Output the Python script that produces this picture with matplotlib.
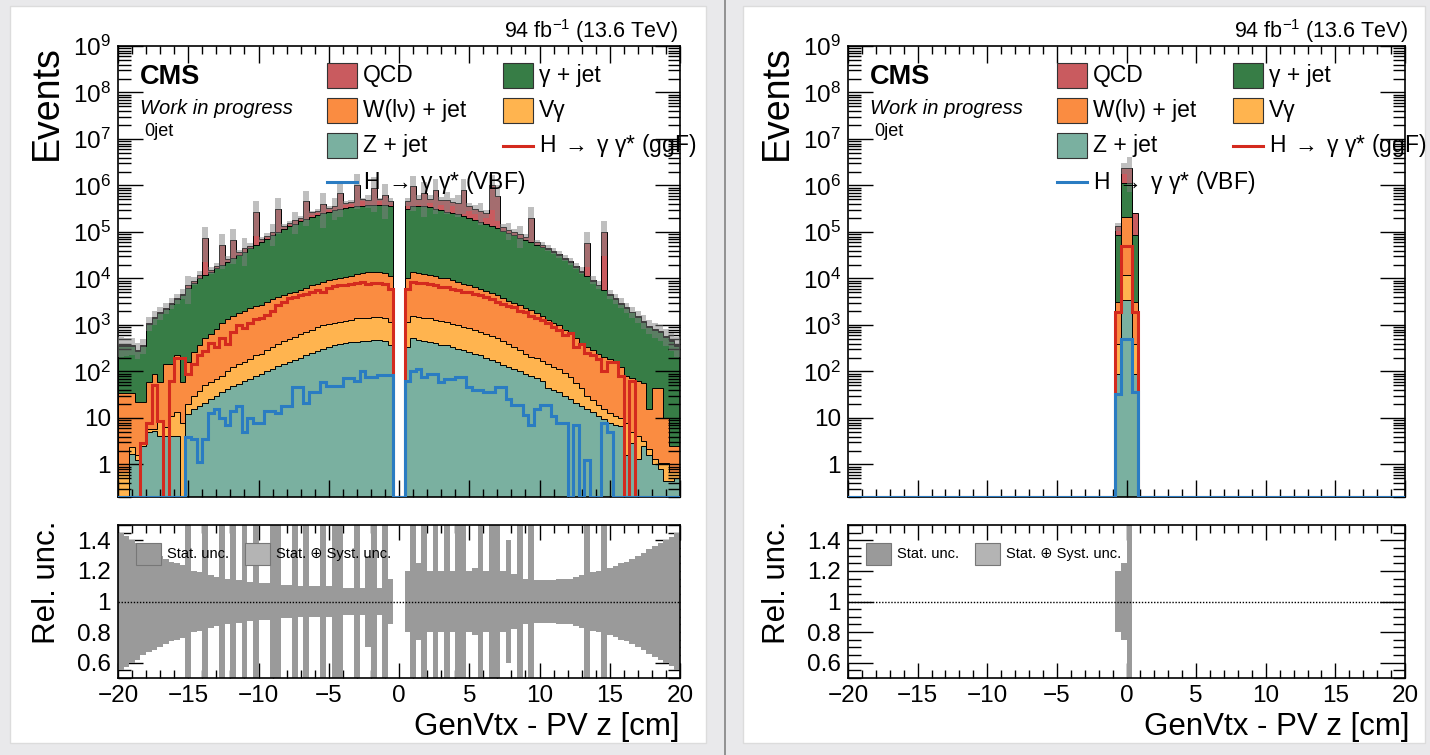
import numpy as np
import matplotlib
matplotlib.use('Agg')
import matplotlib.pyplot as plt
from matplotlib.patches import Rectangle
from matplotlib.lines import Line2D
from matplotlib.ticker import FixedLocator, MultipleLocator, LogLocator, NullFormatter

plt.rcParams['font.family'] = ['Liberation Sans', 'DejaVu Sans']
plt.rcParams['mathtext.fontset'] = 'custom'
plt.rcParams['mathtext.rm'] = 'Liberation Sans'
plt.rcParams['mathtext.it'] = 'Liberation Sans:italic'
plt.rcParams['mathtext.bf'] = 'Liberation Sans:bold'

# ----------------------------------------------------------------------------
# Data : log10(events) of the stack edges
# 100 bins of 0.4 cm between -20 and 20 cm, None = empty bin
# ----------------------------------------------------------------------------

edges = np.linspace(-20, 20, 101)

# left canvas : cumulative stack tops
lg_z = [None, None, 0.22, 0.1, 0.4, 0.69, 0.73, 0.62, 0.62, 0.62,
        0.62, None, 1.08, 1.19, 1.26, 1.33, 1.4, 1.48, 1.55, 1.62,
        1.69, 1.73, 1.8, 1.84, 1.91, 1.95, 2.0, 2.06, 2.11, 2.16,
        2.2, 2.25, 2.3, 2.35, 2.4, 2.45, 2.49, 2.53, 2.57, 2.6,
        2.62, 2.63, 2.64, 2.65, 2.66, 2.67, 2.67, 2.65, 2.56, None,
        None, 2.53, 2.71, 2.68, 2.66, 2.64, 2.61, 2.58, 2.56, 2.52,
        2.49, 2.46, 2.42, 2.38, 2.35, 2.3, 2.25, 2.2, 2.15, 2.1,
        2.06, 2.0, 1.95, 1.91, 1.86, 1.8, 1.65, 1.6, 1.55, 1.48,
        1.4, 1.33, 1.26, 1.19, 1.12, 1.05, 0.97, 0.9, 0.85, 0.83,
        0.2, 0.47, 0.11, 0.4, 0.2, 0.0, -0.1, -0.35, -0.35, -0.3]

lg_vg = [-0.17, -0.17, 0.37, 0.2, 0.47, 0.76, 0.76, 0.94, 0.8, 1.05,
         1.12, 0.9, 1.3, 1.48, 1.59, 1.7, 1.77, 1.84, 1.91, 2.02,
         2.09, 2.17, 2.2, 2.27, 2.35, 2.38, 2.47, 2.53, 2.6, 2.66,
         2.7, 2.75, 2.8, 2.85, 2.9, 2.95, 3.0, 3.03, 3.05, 3.07,
         3.09, 3.11, 3.14, 3.15, 3.16, 3.17, 3.17, 3.16, 3.07, None,
         None, 3.07, 3.2, 3.18, 3.16, 3.14, 3.11, 3.09, 3.07, 3.03,
         3.0, 2.96, 2.93, 2.89, 2.85, 2.81, 2.76, 2.71, 2.65, 2.59,
         2.53, 2.46, 2.38, 2.31, 2.28, 2.22, 2.17, 2.1, 2.06, 1.97,
         1.88, 1.75, 1.65, 1.48, 1.38, 1.28, 1.19, 1.1, 1.05, 1.01,
         0.9, 0.69, 0.62, 0.5, 0.33, 0.11, 0.04, 0.04, -0.17, -0.17]

lg_w = [1.53, 1.53, 1.53, 1.35, 1.35, 1.77, 1.95, 1.77, 2.17, 2.17,
        2.35, 1.77, 2.2, 2.42, 2.56, 2.71, 2.8, 2.92, 3.05, 3.12,
        3.2, 3.25, 3.3, 3.36, 3.4, 3.44, 3.5, 3.55, 3.6, 3.64,
        3.68, 3.72, 3.76, 3.8, 3.85, 3.89, 3.93, 3.96, 3.99, 4.01,
        4.03, 4.06, 4.09, 4.11, 4.13, 4.14, 4.14, 4.12, 4.05, None,
        None, 4.0, 4.14, 4.12, 4.1, 4.07, 4.05, 4.02, 4.0, 3.97,
        3.93, 3.89, 3.86, 3.82, 3.78, 3.73, 3.69, 3.64, 3.57, 3.52,
        3.47, 3.42, 3.37, 3.32, 3.25, 3.2, 3.1, 3.05, 3.0, 2.9,
        2.82, 2.72, 2.62, 2.53, 2.46, 2.38, 2.32, 2.27, 2.2, 2.1,
        1.9, 1.85, 1.8, 1.75, 1.2, 1.65, 1.65, 1.0, 0.4, 0.4]

lg_gjet = [2.55, 2.55, 2.55, 2.45, 2.55, 3.03, 3.15, 3.25, 3.35, 3.45,
           3.55, 3.65, 3.8, 3.9, 4.0, 4.08, 4.15, 4.22, 4.29, 4.36,
           4.44, 4.51, 4.58, 4.65, 4.72, 4.79, 4.86, 4.93, 5.0, 5.06,
           5.12, 5.18, 5.23, 5.28, 5.33, 5.37, 5.41, 5.44, 5.47, 5.49,
           5.51, 5.53, 5.55, 5.56, 5.57, 5.58, 5.58, 5.57, 5.55, None,
           None, 5.5, 5.55, 5.56, 5.55, 5.53, 5.5, 5.47, 5.44, 5.41,
           5.38, 5.34, 5.3, 5.26, 5.22, 5.18, 5.13, 5.08, 5.03, 4.98,
           4.93, 4.88, 4.83, 4.78, 4.73, 4.68, 4.63, 4.57, 4.5, 4.42,
           4.35, 4.25, 4.15, 4.05, 3.95, 3.85, 3.75, 3.65, 3.55, 3.46,
           3.36, 3.27, 3.17, 3.07, 2.96, 2.9, 2.85, 2.75, 2.65, 2.55]

lg_total = [2.57, 2.57, 2.57, 2.47, 2.57, 3.05, 3.17, 3.27, 3.37, 3.47,
            3.57, 3.67, 3.86, 3.95, 4.08, 4.87, 4.18, 4.27, 4.72, 4.42,
            4.83, 4.56, 4.66, 4.7, 5.44, 4.85, 4.92, 5.0, 5.49, 5.12,
            5.2, 5.25, 5.3, 5.66, 5.42, 5.45, 5.6, 5.52, 5.56, 5.84,
            5.62, 5.64, 6.02, 5.7, 5.68, 5.95, 5.7, 5.8, 5.66, None,
            None, 5.66, 5.98, 5.7, 5.84, 5.72, 5.9, 5.68, 5.68, 5.65,
            5.62, 5.9, 5.55, 5.5, 5.45, 5.4, 6.0, 5.77, 5.1, 5.05,
            5.0, 4.95, 4.9, 5.3, 4.78, 4.72, 4.66, 4.6, 4.52, 4.45,
            4.37, 4.27, 4.17, 4.76, 3.97, 3.87, 5.01, 3.67, 3.57, 3.48,
            3.38, 3.29, 3.19, 3.09, 2.98, 2.92, 2.87, 2.77, 2.67, 2.57]

lg_ggf = [None, None, None, None, 0.47, 0.9, 1.7, 0.94, None, 1.8,
          2.3, 2.3, 1.95, 2.17, 2.35, 2.45, 2.62, 2.52, 2.72, 2.6,
          2.85, 3.0, 2.93, 3.05, 3.12, 3.16, 3.22, 3.3, 3.42, 3.5,
          3.57, 3.6, 3.64, 3.66, 3.72, 3.75, 3.7, 3.8, 3.83, 3.85,
          3.86, 3.88, 3.9, 3.92, 3.88, 3.9, 3.9, 3.88, 3.78, None,
          None, 3.78, 3.93, 3.9, 3.9, 3.88, 3.85, 3.82, 3.82, 3.78,
          3.75, 3.71, 3.7, 3.66, 3.64, 3.6, 3.55, 3.5, 3.45, 3.4,
          3.38, 3.3, 3.27, 3.2, 3.15, 3.1, 3.05, 2.96, 2.9, 2.78,
          2.82, 2.53, 2.6, 2.4, 2.35, 2.27, 2.0, 2.2, 2.2, 1.9,
          None, 1.8, None, None, None, None, None, None, None, None]

lg_vbf = [None, None, None, None, None, None, None, None, None, None,
          None, None, 0.6, 0.55, 0.05, 0.55, 1.1, 1.2, 1.0, 0.85,
          1.15, 1.25, 0.7, 1.0, 0.9, 0.9, 1.16, 1.16, 1.1, 1.26,
          1.26, 1.66, 1.66, 1.33, 1.55, 1.55, 1.77, 1.69, 1.69, 1.69,
          1.87, 1.87, 1.8, 2.02, 1.88, 1.88, 1.93, 1.93, 1.93, None,
          None, 1.8, 2.0, 2.06, 1.88, 1.95, 1.95, 1.77, 1.84, 1.84,
          1.88, 1.88, 1.66, 1.6, 1.6, 1.55, 1.55, 1.66, 1.66, 1.4,
          1.29, 1.29, 1.07, 0.86, 1.2, 1.29, 1.29, 1.05, 0.9, 0.9,
          None, 0.85, None, 0.1, None, None, 0.9, 0.7, None, None,
          None, None, None, None, None, None, None, None, None, None]

# relative uncertainty (half width of the band)
rel_unc = [0.45, 0.43, 0.4, 0.38, 0.35, 0.33, 0.32, 0.3, 0.28, 0.26,
           0.25, 0.24, 0.6, 0.2, 0.19, 0.7, 0.17, 0.16, 0.7, 0.15,
           0.7, 0.14, 0.6, 0.13, 0.7, 0.12, 0.12, 0.5, 0.7, 0.11,
           0.11, 0.5, 0.1, 0.7, 0.1, 0.1, 0.7, 0.1, 0.5, 0.7,
           0.09, 0.09, 0.7, 0.09, 0.3, 0.7, 0.09, 0.7, 0.15, 0.0,
           0.0, 0.2, 0.7, 0.25, 0.7, 0.2, 0.7, 0.2, 0.5, 0.2,
           0.5, 0.7, 0.2, 0.22, 0.5, 0.2, 0.7, 0.7, 0.2, 0.4,
           0.18, 0.5, 0.15, 0.7, 0.14, 0.14, 0.14, 0.14, 0.15, 0.15,
           0.15, 0.16, 0.17, 0.7, 0.19, 0.2, 0.7, 0.22, 0.23, 0.25,
           0.26, 0.28, 0.3, 0.32, 0.34, 0.36, 0.38, 0.4, 0.42, 0.45]

# right canvas : only the four central bins (-0.8 .. 0.8 cm) are filled
peak_bins = [48, 49, 50, 51]
pk_z = [1.95, 3.54, 3.54, 1.95]
pk_vg = [2.6, 4.08, 4.08, 2.6]
pk_w = [3.5, 5.33, 5.33, 3.5]
pk_gjet = [4.94, 6.06, 6.06, 4.94]
pk_total = [5.12, 6.38, 6.38, 5.41]
pk_ggf = [3.28, 4.69, 4.69, 3.28]
pk_vbf = [1.52, 2.7, 2.7, 1.55]
pk_unc = [0.2, 0.25, 0.7, 0.0]

labels = ['QCD', '\u03b3 + jet', 'W(l\u03bd) + jet', 'V\u03b3', 'Z + jet',
          'H$\\;{\\rightarrow}\\;$\u03b3 \u03b3* (ggF)',
          'H$\\;{\\rightarrow}\\;$\u03b3 \u03b3* (VBF)']

# ----------------------------------------------------------------------------
# Style
# ----------------------------------------------------------------------------

c_qcd, c_gjet, c_w, c_vg, c_z = '#c95b5f', '#377d46', '#fa8c41', '#ffb44f', '#7ab0a0'
c_ggf, c_vbf = '#d42a1e', '#2a7cc2'
c_band = '#808080'

W, H = 1430, 755
YMIN, YMAX = 0.2, 1e9
FLOOR = 1e-3

fig = plt.figure(figsize=(W / 100, H / 100), dpi=100)
fig.patch.set_facecolor('#e9e9eb')


def fx(x):
    return x / W


def fy(y):
    return 1 - y / H


def box(x0, y0, x1, y1):
    return [fx(x0), fy(y1), (x1 - x0) / W, (y1 - y0) / H]


def ev(lg):
    return np.array([np.nan if v is None else 10.0 ** v for v in lg])


def spread(vals, fill=None):
    out = [fill] * 100
    for b, v in zip(peak_bins, vals):
        out[b] = v
    return out


def style_ticks(ax, xlen, ylen):
    ax.set_xlim(-20, 20)
    ax.xaxis.set_major_locator(MultipleLocator(5))
    ax.xaxis.set_minor_locator(MultipleLocator(1))
    ax.tick_params(which='both', direction='in', top=True, right=True,
                   width=1.0, color='black', labelsize=17.5, pad=5)
    ax.tick_params(axis='x', which='major', length=xlen)
    ax.tick_params(axis='x', which='minor', length=xlen * 0.5)
    ax.tick_params(axis='y', which='major', length=ylen)
    ax.tick_params(axis='y', which='minor', length=ylen * 0.5)
    for s in ax.spines.values():
        s.set_linewidth(1.2)


def draw_panel(x0, x1, z, vg, w, gj, tot, ggf, vbf, unc):
    ax = fig.add_axes(box(x0, 46, x1, 497))
    rax = fig.add_axes(box(x0, 525, x1, 678))

    tops = [ev(z), ev(vg), ev(w), ev(gj), ev(tot)]
    cols = [c_z, c_vg, c_w, c_gjet, c_qcd]
    base = np.full(100, FLOOR)
    for top, col in zip(tops, cols):
        t = np.where(np.isnan(top), FLOOR, top)
        t = np.maximum(t, base)
        ax.stairs(t, edges, baseline=base, fill=True, facecolor=col,
                  edgecolor='none', zorder=1)
        ax.stairs(t, edges, color='black', lw=0.7, zorder=2)
        base = t

    total = base
    r = np.array(unc)
    up = np.where(r > 0, total * (1 + r), FLOOR)
    dn = np.where(r > 0, np.maximum(total * (1 - r), FLOOR), FLOOR)
    ax.stairs(up, edges, baseline=dn, fill=True, facecolor=c_band,
              alpha=0.5, edgecolor='none', zorder=3)

    for lg, col in ((ggf, c_ggf), (vbf, c_vbf)):
        v = ev(lg)
        v = np.where(np.isnan(v), YMIN, v)
        ax.stairs(v, edges, color=col, lw=2.2, zorder=4)

    ax.set_yscale('log')
    ax.set_ylim(YMIN, YMAX)
    dec = [10.0 ** k for k in range(10)]
    ylab = ['1', '10'] + ['$10^{%d}$' % k for k in range(2, 10)]
    ax.yaxis.set_major_locator(FixedLocator(dec))
    ax.set_yticklabels(ylab)
    ax.yaxis.set_minor_locator(LogLocator(base=10, subs=np.arange(2, 10), numticks=30))
    ax.yaxis.set_minor_formatter(NullFormatter())
    style_ticks(ax, 12, 18)
    ax.tick_params(axis='x', labelbottom=False)

    # ratio pad
    rax.stairs(1 + r, edges, baseline=1 - r, fill=True, facecolor='#b4b4b4',
               edgecolor='none', zorder=1)
    rax.stairs(1 + r, edges, baseline=1 - r, fill=True, facecolor='#9a9a9a',
               edgecolor='none', zorder=2)
    rax.axhline(1, color='black', lw=1.0, ls=(0, (1, 1.2)), zorder=3)
    rax.set_ylim(0.5, 1.5)
    rax.set_yticks([0.6, 0.8, 1.0, 1.2, 1.4], ['0.6', '0.8', '1', '1.2', '1.4'])
    rax.yaxis.set_minor_locator(MultipleLocator(0.05))
    style_ticks(rax, 11, 18)
    rax.set_xticks([-20, -15, -10, -5, 0, 5, 10, 15, 20],
                   ['\u221220', '\u221215', '\u221210', '\u22125', '0', '5', '10', '15', '20'])
    return ax, rax


def panel_text(dx):
    fig.text(fx(678 + dx), fy(31), r'94 fb$^{-1}$ (13.6 TeV)', ha='right', va='center',
             fontsize=15.5)
    fig.text(fx(140 + dx), fy(77), 'CMS', ha='left', va='center', fontsize=19.5,
             fontweight='bold')
    fig.text(fx(140 + dx), fy(108), 'Work in progress', ha='left', va='center',
             fontsize=14.5, style='italic')
    fig.text(fx(144 + dx), fy(132), '0jet', ha='left', va='center', fontsize=13)
    fig.text(fx(47 + dx), fy(45), 'Events', rotation=90, ha='center', va='top',
             fontsize=27)
    fig.text(fx(47 + dx), fy(521), 'Rel. unc.', rotation=90, ha='center', va='top',
             fontsize=22.5)
    fig.text(fx(680 + dx), fy(727), 'GenVtx - PV z [cm]', ha='right', va='center',
             fontsize=22.5)

    # legend
    entries = [(327, 75.5, 'box', c_qcd, labels[0]),
               (503, 75.5, 'box', c_gjet, labels[1]),
               (327, 110.5, 'box', c_w, labels[2]),
               (503, 110.5, 'box', c_vg, labels[3]),
               (327, 145.5, 'box', c_z, labels[4]),
               (503, 145.5, 'line', c_ggf, labels[5]),
               (327, 182, 'line', c_vbf, labels[6])]
    for x, y, kind, col, lab in entries:
        x += dx
        if kind == 'box':
            fig.add_artist(Rectangle((fx(x), fy(y + 12.5)), 30 / W, 25 / H,
                                     transform=fig.transFigure, facecolor=col,
                                     edgecolor='#333333', lw=0.8))
        else:
            fig.add_artist(Line2D([fx(x), fx(x + 30)], [fy(y), fy(y)],
                                  transform=fig.transFigure, color=col, lw=2.2))
        fig.text(fx(x + 36), fy(y), lab, ha='left', va='center', fontsize=16.5)

    # ratio legend
    for x, col, lab in ((136, '#9a9a9a', 'Stat. unc.'),
                        (245, '#b4b4b4', 'Stat. \u2295 Syst. unc.')):
        fig.add_artist(Rectangle((fx(x + dx), fy(565)), 25 / W, 22 / H,
                                 transform=fig.transFigure, facecolor=col,
                                 edgecolor='#777777', lw=0.8, zorder=5))
        fig.text(fx(x + dx + 31), fy(554), lab, ha='left', va='center', fontsize=10.5,
                 zorder=6)


# canvases
for cx0, cx1 in ((10, 706), (743, 1425)):
    fig.add_artist(Rectangle((fx(cx0), fy(743)), (cx1 - cx0) / W, (743 - 6) / H,
                             transform=fig.transFigure, facecolor='white',
                             edgecolor='#dcdcdc', lw=1.0, zorder=-5))
fig.add_artist(Line2D([fx(725), fx(725)], [0, 1], transform=fig.transFigure,
                      color='#8a8a8a', lw=1.3))

draw_panel(118, 680, lg_z, lg_vg, lg_w, lg_gjet, lg_total, lg_ggf, lg_vbf, rel_unc)
panel_text(0)

draw_panel(848, 1405, spread(pk_z), spread(pk_vg), spread(pk_w), spread(pk_gjet),
           spread(pk_total), spread(pk_ggf), spread(pk_vbf), spread(pk_unc, 0.0))
panel_text(730)

fig.savefig('out.png', dpi=100, facecolor=fig.get_facecolor())
